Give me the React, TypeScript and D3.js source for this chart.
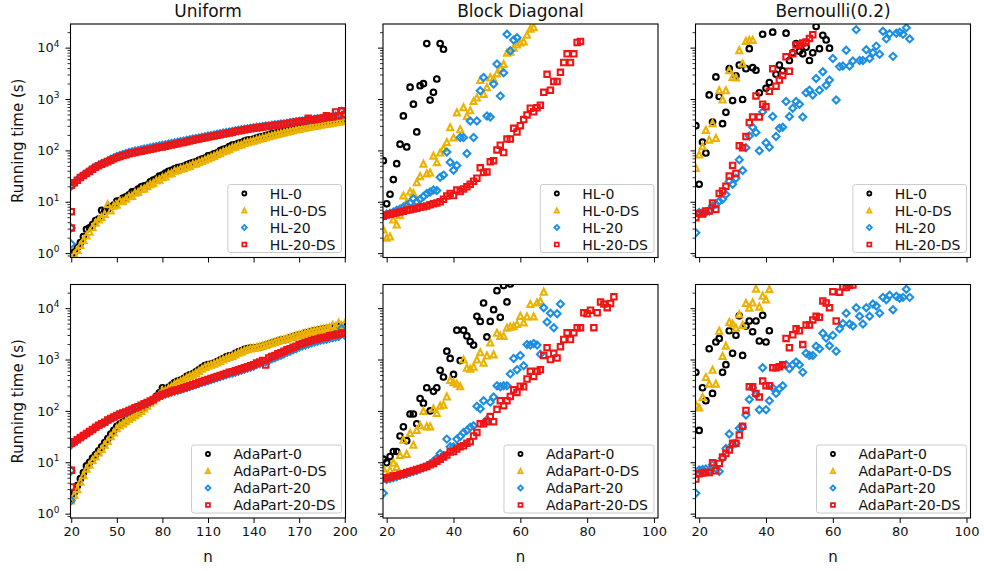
import React, { useEffect, useRef } from 'react';
import * as d3 from 'd3';

// ---- text and ticks ----
const COLUMN_TITLES = ['Uniform', 'Block Diagonal', 'Bernoulli(0.2)'];
const HL_LABELS = ['HL-0', 'HL-0-DS', 'HL-20', 'HL-20-DS'];
const ADA_LABELS = ['AdaPart-0', 'AdaPart-0-DS', 'AdaPart-20', 'AdaPart-20-DS'];
const UNIFORM_TICKS = [20, 50, 80, 110, 140, 170, 200];
const SMALL_TICKS = [20, 40, 60, 80, 100];
const Y_TICKS = [1, 10, 100, 1000, 10000];
const Y_EXPONENTS = ['0', '1', '2', '3', '4'];

// Uniform runs: n = 20, 22, ..., 200; extra runs sit at n = 20
const UNIFORM_N = d3.range(20, 201, 2);
const EXTRA_N = 20;
// Block Diagonal / Bernoulli runs: one per n starting at 19
const FIRST_N = 19;

// ---- Uniform, HL ----
const uniHL0 = [
  0.85, 1.05, 1.3, 1.6, 2.1, 2.9, 3.1, 3.6, 4.3, 4.6,
  6.8, 6.5, 7.2, 8.0, 8.6, 10.3, 10.5, 11.8, 12.4, 13.6,
  15.5, 16.0, 17.6, 19.5, 20.5, 21.0, 24.5, 26.5, 28.0, 31.5,
  33, 36, 39, 41, 43.5, 46, 47.5, 49, 52.5, 55,
  58, 60, 64, 68, 71, 78, 80, 86, 90, 99,
  105, 108, 118, 126, 130, 137, 142, 152, 158, 160,
  166, 174, 182, 186, 194, 200, 210, 214, 225, 228,
  240, 244, 250, 265, 268, 275, 282, 288, 302, 308,
  316, 322, 330, 340, 346, 355, 362, 370, 380, 388,
  398,
];
const uniHL0DS = [
  0.8, 0.95, 1.15, 1.45, 1.8, 2.2, 2.6, 3.2, 3.9, 4.5,
  5.0, 5.8, 9.0, 6.8, 8.4, 8.8, 10.5, 10.2, 11.5, 12.8,
  13.0, 15.0, 15.5, 17.5, 18.0, 20.0, 22.0, 23.0, 26.0, 27.0,
  30, 31, 35, 36, 40, 41, 44, 45, 48, 50,
  54, 55, 59, 62, 66, 70, 74, 78, 84, 88,
  95, 100, 106, 114, 118, 126, 130, 140, 145, 150,
  155, 162, 168, 175, 180, 188, 195, 202, 210, 216,
  224, 230, 238, 248, 255, 262, 270, 276, 285, 292,
  300, 306, 315, 322, 330, 336, 344, 352, 360, 368,
  375,
];
const uniHL20 = [
  20.0, 23.0, 26.5, 30.0, 33.0, 36.5, 40.0, 44.0, 48.0, 51.5,
  55.5, 59.0, 63.0, 67.0, 71.5, 76.0, 79.5, 83.5, 87.0, 91.0,
  94.5, 97.0, 100, 103, 107, 109, 112, 116, 119, 123,
  126, 129, 133, 136, 141, 144, 149, 152, 157, 162,
  167, 171, 175, 181, 185, 191, 195, 200, 206, 211,
  217, 222, 227, 234, 240, 247, 252, 258, 264, 270,
  276, 282, 286, 292, 298, 302, 309, 316, 320, 327,
  331, 338, 345, 352, 360, 368, 372, 380, 390, 395,
  404, 412, 420, 430, 436, 446, 455, 466, 478, 580,
  505,
];
const uniHL20DS = [
  20.9, 23.4, 26.3, 29.5, 32.4, 35.5, 38.9, 42.7, 46.8, 50.1,
  53.7, 56.9, 60.3, 64.6, 68.4, 72.4, 75.9, 79.4, 82.2, 86.1,
  89.1, 91.2, 94.4, 96.6, 100, 102, 105, 108, 111, 115,
  117, 120, 124, 127, 132, 135, 140, 143, 148, 153,
  158, 162, 166, 172, 176, 182, 186, 191, 197, 202,
  209, 214, 219, 226, 232, 240, 245, 251, 257, 263,
  269, 275, 279, 285, 292, 295, 302, 309, 313, 320,
  324, 331, 339, 347, 355, 363, 367, 376, 420, 389,
  398, 407, 417, 427, 470, 442, 452, 560, 473, 590,
  501,
];
const uniHL20Extra = [3.1, 1.5];
const uniHL20DSExtra = [6.4, 3.1];

// ---- Uniform, AdaPart ----
const uniAda0 = [
  2.0, 2.6, 3.5, 4.8, 6.3, 8.5, 10, 12, 14.1, 16.6,
  20, 24, 28.8, 35.5, 41.7, 50.1, 55, 60.3, 66.1, 72.4,
  77.6, 85.1, 93.3, 105, 117, 132, 151, 166, 191, 224,
  282, 263, 288, 316, 355, 380, 398, 427, 468, 501,
  525, 575, 631, 692, 759, 794, 813, 851, 912, 977,
  1047, 1122, 1175, 1202, 1318, 1413, 1479, 1585, 1622, 1660,
  1660, 1698, 1738, 1820, 1905, 1995, 2089, 2188, 2291, 2399,
  2400, 2500, 2650, 2750, 2900, 3000, 3100, 3250, 3350, 3500,
  3600, 3700, 3800, 3900, 4000, 4100, 4200, 4300, 4400, 4500,
  4600,
];
const uniAda0DS = [
  1.8, 2.3, 3.0, 4.2, 5.6, 7.5, 9.0, 11, 13, 15.5,
  18, 22, 26, 32, 38, 46, 52, 57, 63, 70,
  75, 82, 90, 100, 112, 126, 145, 160, 182, 210,
  250, 250, 275, 300, 335, 360, 380, 410, 445, 480,
  505, 550, 600, 660, 720, 760, 790, 830, 880, 940,
  1000, 1070, 1120, 1170, 1260, 1350, 1420, 1520, 1580, 1640,
  1680, 1720, 1780, 1850, 1930, 2020, 2100, 2200, 2300, 2400,
  2480, 2580, 2700, 2800, 2950, 3050, 3150, 3300, 3400, 3550,
  3650, 3750, 3850, 3950, 4100, 4250, 4700, 4400, 5200, 4600,
  5000,
];
const uniAda20 = [
  22, 24.5, 27, 29.5, 32.5, 35.5, 39, 43, 47, 51.5,
  55, 59.5, 65, 70, 75, 80, 86, 90, 94, 100,
  105, 112, 118, 126, 135, 142, 152, 162, 178, 190,
  202, 212, 222, 232, 242, 248, 260, 272, 285, 298,
  310, 325, 340, 355, 370, 385, 402, 420, 440, 460,
  480, 505, 525, 540, 565, 590, 615, 645, 675, 710,
  740, 795, 830, 870, 900, 960, 1030, 1080, 1150, 1210,
  1280, 1380, 1450, 1550, 1620, 1750, 1840, 1920, 2000, 2100,
  2200, 2260, 2360, 2420, 2480, 2600, 2650, 2730, 2800, 4000,
  2950,
];
const uniAda20DS = [
  23.4, 25.1, 27.5, 30.2, 33.1, 36.3, 39.8, 43.6, 47.9, 52.5,
  56.2, 60.3, 66.1, 70.8, 75.9, 81.3, 87.1, 91.2, 95.5, 102,
  107, 115, 120, 129, 138, 145, 155, 166, 182, 195,
  209, 219, 229, 240, 251, 257, 269, 282, 295, 309,
  324, 339, 355, 372, 389, 407, 427, 447, 468, 490,
  513, 537, 562, 575, 603, 631, 661, 692, 724, 759,
  794, 851, 891, 955, 780, 1072, 1148, 1202, 1288, 1349,
  1445, 1549, 1622, 1738, 1820, 1950, 2042, 2138, 2239, 2344,
  2455, 2512, 2630, 2692, 2754, 2884, 2951, 3020, 3090, 3236,
  3311,
];
const uniAda20Extra = [6.8, 1.8];
const uniAda20DSExtra = [7.0, 3.3];

// ---- Block Diagonal, HL ----
const blockHL0 = [63, 9.1, 14, 27, 55, 132, 468, 117, 1700, 794, 229, 1820, 1990, 12000, 955, 1350, 2450, 12000, 9300];
const blockHL0DS = [
  2.9, 2.0, 2.1, 4.5, 3.6, 5.5, 13.2, 9.8, 15.8, 14.8,
  24, 31.6, 55, 35.5, 37, 79, 59, 91, 110, 145,
  282, 178, 550, 257, 692, 468, 603, 912, 1070, 2340,
  1260, 1700, 2630, 2450, 3160, 3980, 4790, 7940, 8300, 10000,
  11500, 12600, 13200, 17800, 23400, 25100,
];
const blockHL20 = [
  5.2, 5.8, 6.0, 6.3, 6.8, 7.2, 7.9, 8.5, 9.5, 11.5,
  10, 11.2, 12.6, 14.5, 15.5, 17, 16.6, 30, 33, 93,
  59, 41, 51, 178, 178, 87, 372, 178, 372, 1450,
  2630, 468, 447, 1950, 4790, 1150, 3240, 18200, 8700, 14100,
  15500,
];
const blockHL20DS = [
  5.2, 5.5, 5.7, 5.9, 6.1, 6.3, 6.5, 6.8, 7.0, 7.2,
  7.5, 7.8, 8.0, 8.3, 8.7, 9.1, 9.5, 10, 11.2, 12.9,
  14.5, 13.2, 17, 15.8, 17.8, 19.5, 21.9, 25.1, 28.8, 45.7,
  37.2, 38, 60, 63, 102, 126, 91, 166, 166, 269,
  229, 302, 398, 490, 661, 562, 676, 759, 1350, 3020,
  1480, 2190, 2190, 3310, 5130, 7590, 5130, 7590, 12600, 13200,
];

// ---- Bernoulli(0.2), HL ----
const bernHL0 = [
  302, 21.9, 145, 89, 1200, 355, 2690, 1120, 331, 550,
  3890, 933, 2820, 4570, 977, 3890, 9550, 4070, 3630, 1320,
  18200, 1620, 2090, 20000, 3020, 4570, 3550, 19100, 5620, 7940,
  12000, 8510, 7590, 10200, 5620, 7940, 25700, 9550, 17400, 14100,
  9770,
];
const bernHL0DS = [45.7, 83, 120, 251, 162, 339, 174, 1480, 977, 1480, 3630, 2690, 2630, 8910, 4900, 13500, 14100, 14100];
const bernHL20 = [
  2.5, 6.2, 6.2, 6.2, 6.6, 8.3, 8.9, 10.2, 11.2, 13.8,
  25.1, 21.9, 28.8, 66, 40.7, 112, 191, 282, 224, 98,
  562, 141, 115, 457, 186, 269, 282, 891, 457, 661,
  891, 794, 447, 1320, 1480, 1200, 2510, 1480, 3390, 1860,
  2340, 6170, 955, 4270, 4370, 8910, 4370, 5500, 22400, 5620,
  5620, 9120, 6170, 7940, 10700, 7410, 20900, 14800, 18600, 6760,
  19100, 20000, 18200, 24500, 14800,
];
const bernHL20DS = [
  4.9, 5.9, 5.8, 6.6, 6.6, 9.5, 7.1, 14.5, 16.2, 20,
  31.6, 51, 35.5, 123, 112, 186, 347, 447, 1150, 447,
  794, 708, 1410, 3890, 1780, 2340, 2880, 6610, 3470, 7590,
  11200, 11200, 12300, 12900, 15100, 17800,
];

// ---- Block Diagonal, AdaPart ----
const blockAda0 = [
  11.5, 9.8, 12.9, 16.2, 16.2, 32.4, 49, 26.3, 87, 87,
  56, 174, 141, 282, 100, 240, 282, 617, 457, 1450,
  1050, 513, 3720, 955, 3720, 2880, 2240, 1910, 6920, 5500,
  12600, 2750, 5500, 9330, 21900, 6610, 27500, 13200, 29500,
];
const blockAda0DS = [
  7.6, 5.0, 7.1, 9.8, 8.1, 13.8, 27.5, 14.5, 37.2, 21.9,
  42.7, 52.5, 100, 50, 50, 112, 91, 126, 132, 191,
  398, 363, 339, 302, 1000, 692, 661, 724, 1000, 1380,
  871, 1200, 2140, 1260, 3310, 2880, 2880, 4170, 4370, 4470,
  4900, 7080, 5250, 6920, 12000, 6920, 12900, 13800, 20900,
];
const blockAda20 = [
  2.5, 4.6, 4.8, 5.0, 5.2, 5.5, 5.8, 6.0, 6.3, 6.6,
  6.9, 7.4, 7.9, 8.5, 9.3, 10.5, 12.0, 14.8, 13.2, 28.2,
  20, 20, 28.2, 31.6, 38, 41.7, 47.9, 51.3, 123, 110,
  158, 67.6, 148, 186, 309, 295, 309, 309, 525, 1050,
  631, 1200, 759, 1950, 1910, 2040, 1910, 1260, 10200, 5370,
  7940, 4170, 7760, 12000,
];
const blockAda20DS = [
  4.8, 5.0, 5.1, 5.4, 5.5, 5.8, 6.0, 6.3, 6.6, 6.9,
  7.2, 7.6, 7.9, 8.3, 8.9, 9.5, 10.5, 11.5, 12.6, 13.8,
  15.8, 16.2, 18.2, 20, 20.9, 23.4, 25.1, 32.4, 38, 56,
  56, 61.7, 77.6, 61.7, 107, 158, 126, 158, 191, 257,
  229, 302, 295, 417, 589, 468, 589, 631, 1200, 1700,
  1000, 1320, 1070, 1780, 2450, 3310, 2450, 3310, 4170, 4170,
  8130, 7760, 9120, 4170, 8130, 13200, 12000, 10200, 12300, 16600,
];

// ---- Bernoulli(0.2), AdaPart ----
const bernAda0 = [562, 41.7, 282, 158, 1620, 219, 2190, 2570, 562, 794, 3630, 1320, 2950, 7080, 1200, 4470, 5620, 3470, 5620, 2290, 7240, 2190, 3630];
const bernAda0DS = [132, 117, 186, 457, 339, 631, 339, 3630, 1170, 1860, 5370, 5010, 4170, 7590, 4680, 12600, 10200, 12900, 24000, 10700, 17400, 14800, 23400];
const bernAda20 = [
  2.5, 7.1, 7.2, 7.4, 6.9, 8.9, 7.6, 6.6, 12, 18.6,
  35.5, 21.9, 23.4, 45.7, 47.9, 83, 166, 282, 209, 105,
  692, 105, 158, 282, 219, 269, 309, 794, 661, 794,
  891, 794, 562, 1320, 1200, 1200, 1820, 1620, 3240, 2630,
  1860, 2950, 1450, 3980, 5010, 7940, 4900, 4470, 10200, 6920,
  4900, 10200, 6920, 12000, 11000, 7940, 16200, 14500, 17800, 9330,
  17000, 15500, 16200, 23400, 16200,
];
const bernAda20DS = [
  4.7, 6.0, 6.2, 6.3, 6.3, 9.8, 6.8, 9.5, 12.6, 14.8,
  17.4, 23.4, 23.4, 33.9, 50.1, 102, 295, 295, 219, 186,
  380, 309, 309, 692, 692, 724, 794, 2570, 1700, 3020,
  3980, 3630, 1950, 4680, 4680, 5890, 6920, 6610, 13800, 12600,
  10200, 20900, 5620, 20400, 26300, 25100, 27500, 28200,
];

// ---- layout ----
const WIDTH = 984;
const HEIGHT = 571;
const COL_LEFT = [70.5, 383, 695.5];
const ROW_TOP = [24, 284.5];
const PLOT_W = 275;
const PLOT_H = 233.5;
const Y_DOMAIN = [0.822, 28840];
const FONT = '"DejaVu Sans", Verdana, sans-serif';
const TEXT_COLOR = '#111111';

const STYLES = [
  { shape: 'circle', color: '#000000' },
  { shape: 'triangle', color: '#ebb200' },
  { shape: 'diamond', color: '#1c8fe3' },
  { shape: 'square', color: '#f01414' },
];

type Point = [number, number];

const uniformPoints = (values: number[], extra: number[] = []): Point[] =>
  [...extra.map((t) => [EXTRA_N, t] as Point), ...values.map((t, i) => [UNIFORM_N[i], t] as Point)];

const runPoints = (values: number[]): Point[] => values.map((t, i) => [FIRST_N + i, t] as Point);

const PANELS = [
  { row: 0, col: 0, xDomain: [19.5, 200.5], ticks: UNIFORM_TICKS, labels: HL_LABELS,
    series: [uniformPoints(uniHL0), uniformPoints(uniHL0DS), uniformPoints(uniHL20, uniHL20Extra), uniformPoints(uniHL20DS, uniHL20DSExtra)] },
  { row: 0, col: 1, xDomain: [18.9, 101.2], ticks: SMALL_TICKS, labels: HL_LABELS,
    series: [runPoints(blockHL0), runPoints(blockHL0DS), runPoints(blockHL20), runPoints(blockHL20DS)] },
  { row: 0, col: 2, xDomain: [18.9, 101.2], ticks: SMALL_TICKS, labels: HL_LABELS,
    series: [runPoints(bernHL0), runPoints(bernHL0DS), runPoints(bernHL20), runPoints(bernHL20DS)] },
  { row: 1, col: 0, xDomain: [19.5, 200.5], ticks: UNIFORM_TICKS, labels: ADA_LABELS,
    series: [uniformPoints(uniAda0), uniformPoints(uniAda0DS), uniformPoints(uniAda20, uniAda20Extra), uniformPoints(uniAda20DS, uniAda20DSExtra)] },
  { row: 1, col: 1, xDomain: [18.9, 101.2], ticks: SMALL_TICKS, labels: ADA_LABELS,
    series: [runPoints(blockAda0), runPoints(blockAda0DS), runPoints(blockAda20), runPoints(blockAda20DS)] },
  { row: 1, col: 2, xDomain: [18.9, 101.2], ticks: SMALL_TICKS, labels: ADA_LABELS,
    series: [runPoints(bernAda0), runPoints(bernAda0DS), runPoints(bernAda20), runPoints(bernAda20DS)] },
];

const markerPath = (shape: string, s: number) => {
  if (shape === 'circle') {
    const r = 2.8 * s;
    return `M${r},0A${r},${r} 0 1,1 ${-r},0A${r},${r} 0 1,1 ${r},0Z`;
  }
  if (shape === 'triangle') {
    const w = 3.0 * s;
    return `M0,${-w}L${w},${w}L${-w},${w}Z`;
  }
  if (shape === 'diamond') {
    const d = 3.5 * s;
    return `M0,${-d}L${d},0L0,${d}L${-d},0Z`;
  }
  const h = 2.7 * s;
  return `M${-h},${-h}H${h}V${h}H${-h}Z`;
};

const MINOR_TICKS = d3
  .range(-1, 5)
  .flatMap((k) => d3.range(2, 10).map((m) => m * Math.pow(10, k)))
  .filter((v) => v > Y_DOMAIN[0] && v < Y_DOMAIN[1]);

const App: React.FC = () => {
  const svgRef = useRef<SVGSVGElement>(null);

  useEffect(() => {
    if (!svgRef.current) return;
    const svg = d3.select(svgRef.current);
    svg.selectAll('*').remove();

    const y = d3.scaleLog().domain(Y_DOMAIN).range([PLOT_H, 0]);

    PANELS.forEach((p, k) => {
      const left = COL_LEFT[p.col];
      const top = ROW_TOP[p.row];
      const x = d3.scaleLinear().domain(p.xDomain).range([0, PLOT_W]);
      const g = svg.append('g').attr('transform', `translate(${left},${top})`);

      const clipId = `clip-${k}`;
      g.append('clipPath').attr('id', clipId)
        .append('rect').attr('width', PLOT_W).attr('height', PLOT_H);

      const marks = g.append('g').attr('clip-path', `url(#${clipId})`);
      p.series.forEach((pts, i) => {
        marks.append('g')
          .selectAll('path')
          .data(pts)
          .join('path')
          .attr('transform', (d) => `translate(${x(d[0])},${y(d[1])})`)
          .attr('d', markerPath(STYLES[i].shape, 1))
          .attr('fill', 'none')
          .attr('stroke', STYLES[i].color)
          .attr('stroke-width', 2.1);
      });

      // x ticks
      const xAxis = g.append('g')
        .attr('transform', `translate(0,${PLOT_H})`)
        .call(d3.axisBottom(x).tickValues(p.ticks).tickSize(5).tickPadding(4)
          .tickFormat(p.row === 1 ? (d) => String(d) : () => ''));
      xAxis.select('.domain').remove();
      xAxis.selectAll('line').attr('stroke', '#000');
      xAxis.selectAll('text')
        .attr('font-family', FONT)
        .attr('font-size', 13)
        .attr('fill', TEXT_COLOR);

      // y ticks, major and minor
      const yMajor = g.append('g')
        .call(d3.axisLeft(y).tickValues(Y_TICKS).tickSize(5).tickFormat(() => ''));
      yMajor.select('.domain').remove();
      yMajor.selectAll('line').attr('stroke', '#000');
      const yMinor = g.append('g')
        .call(d3.axisLeft(y).tickValues(MINOR_TICKS).tickSize(3).tickFormat(() => ''));
      yMinor.select('.domain').remove();
      yMinor.selectAll('line').attr('stroke', '#000').attr('stroke-width', 0.8);

      if (p.col === 0) {
        Y_TICKS.forEach((v, i) => {
          const t = g.append('text')
            .attr('x', -11)
            .attr('y', y(v) + 4.7)
            .attr('text-anchor', 'end')
            .attr('font-family', FONT)
            .attr('font-size', 13)
            .attr('fill', TEXT_COLOR);
          t.append('tspan').text('10');
          t.append('tspan').attr('font-size', 9).attr('dy', -5.5).text(Y_EXPONENTS[i]);
        });
      }

      g.append('rect')
        .attr('width', PLOT_W)
        .attr('height', PLOT_H)
        .attr('fill', 'none')
        .attr('stroke', '#000')
        .attr('stroke-width', 1.1);

      // legend, lower right
      const legend = g.append('g');
      const box = legend.append('rect');
      const texts = p.labels.map((label, i) =>
        legend.append('text')
          .attr('font-family', FONT)
          .attr('font-size', 14)
          .attr('fill', TEXT_COLOR)
          .attr('y', 9 + i * 17 + 5)
          .attr('x', 42)
          .text(label));
      const textW = d3.max(texts, (t) => (t.node() as SVGTextElement).getComputedTextLength()) || 60;
      const boxW = 42 + textW + 6;
      const boxH = 68;
      p.labels.forEach((_, i) => {
        legend.append('path')
          .attr('transform', `translate(16.5,${9 + i * 17})`)
          .attr('d', markerPath(STYLES[i].shape, 0.72))
          .attr('fill', 'none')
          .attr('stroke', STYLES[i].color)
          .attr('stroke-width', 1.8);
      });
      box.attr('width', boxW).attr('height', boxH).attr('rx', 2.5)
        .attr('fill', 'white').attr('fill-opacity', 0.8)
        .attr('stroke', '#cccccc').attr('stroke-width', 1);
      legend.attr('transform', `translate(${PLOT_W - 4 - boxW},${PLOT_H - 5 - boxH})`);
    });

    // column titles and x labels
    COLUMN_TITLES.forEach((title, c) => {
      svg.append('text')
        .attr('x', COL_LEFT[c] + PLOT_W / 2)
        .attr('y', 17)
        .attr('text-anchor', 'middle')
        .attr('font-family', FONT)
        .attr('font-size', 17)
        .attr('fill', TEXT_COLOR)
        .text(title);
      svg.append('text')
        .attr('x', COL_LEFT[c] + PLOT_W / 2)
        .attr('y', 562)
        .attr('text-anchor', 'middle')
        .attr('font-family', FONT)
        .attr('font-size', 15)
        .attr('fill', TEXT_COLOR)
        .text('n');
    });

    ROW_TOP.forEach((top) => {
      svg.append('text')
        .attr('transform', `translate(22.5,${top + PLOT_H / 2}) rotate(-90)`)
        .attr('text-anchor', 'middle')
        .attr('font-family', FONT)
        .attr('font-size', 15)
        .attr('fill', TEXT_COLOR)
        .text('Running time (s)');
    });
  }, []);

  return (
    <div style={{ width: WIDTH, height: HEIGHT, background: 'white' }}>
      <style>{'body { margin: 0; }'}</style>
      <svg ref={svgRef} width={WIDTH} height={HEIGHT} />
    </div>
  );
};

export default App;
